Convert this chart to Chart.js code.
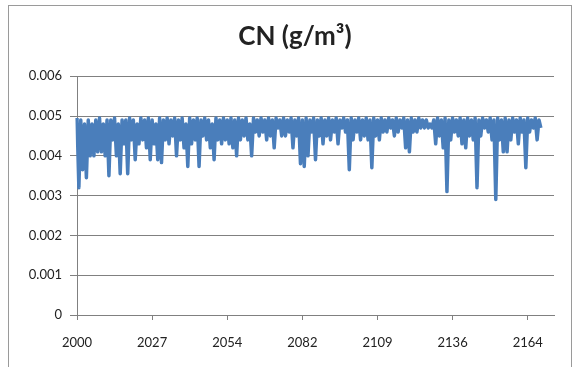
<!DOCTYPE html>
<html>
<head>
<meta charset="utf-8">
<script src="https://cdn.jsdelivr.net/npm/chart.js@4/dist/chart.umd.min.js"></script>
<style>
  html, body { margin: 0; padding: 0; background: #fff; }
  #wrap { width: 579px; height: 367px; }
</style>
</head>
<body>
<div id="wrap"><canvas id="cn-chart" width="579" height="367"></canvas></div>
<script>
////////////////////////////// data ///////////////////////////////////////////////////////////
const tickYears = ['2000', '2027', '2054', '2082', '2109', '2136', '2164'];
const pointsPerTick = 40;
const axisSlots = 255;

// CN (g/m3) (high / low pairs)
const cnValues = [
  0.00495, 0.0032, 0.0049, 0.00365, 0.0048, 0.00345, 0.0049, 0.0040, 0.0048, 0.0040,
  0.0049, 0.0041, 0.00495, 0.0041, 0.0048, 0.0040, 0.0049, 0.0035, 0.0049, 0.0044,
  0.00495, 0.0040, 0.0048, 0.00355, 0.0049, 0.0043, 0.0049, 0.00355, 0.00495, 0.0044,
  0.0049, 0.0039, 0.0048, 0.0043, 0.00495, 0.0044, 0.0049, 0.0042, 0.00495, 0.0039,
  0.0049, 0.0043, 0.0048, 0.0039, 0.00495, 0.00383, 0.0049, 0.0044, 0.00495, 0.0043,
  0.0049, 0.0045, 0.00495, 0.0040, 0.0049, 0.0044, 0.00495, 0.0042, 0.0048, 0.00373,
  0.00495, 0.0043, 0.0049, 0.0044, 0.00495, 0.00373, 0.0049, 0.0045, 0.00495, 0.0044,
  0.0049, 0.0042, 0.0048, 0.0039, 0.00495, 0.0044, 0.0049, 0.0043, 0.00495, 0.0044,
  0.0049, 0.0043, 0.00495, 0.0042, 0.0049, 0.0040, 0.00495, 0.0044, 0.0049, 0.0045,
  0.00495, 0.0044, 0.0048, 0.0040, 0.00495, 0.0046, 0.0049, 0.0045, 0.00495, 0.0046,
  0.0049, 0.0044, 0.00495, 0.0045, 0.0049, 0.0042, 0.00495, 0.0047, 0.0049, 0.0045,
  0.00495, 0.0045, 0.0049, 0.0046, 0.00495, 0.0042, 0.0049, 0.0045, 0.00495, 0.0038,
  0.0049, 0.00373, 0.00495, 0.0040, 0.0049, 0.0046, 0.00495, 0.0039, 0.0049, 0.0045,
  0.00495, 0.0043, 0.0049, 0.0045, 0.00495, 0.0044, 0.0049, 0.0046, 0.00495, 0.0043,
  0.0049, 0.0047, 0.00495, 0.0046, 0.0049, 0.00365, 0.00495, 0.0044, 0.0049, 0.0046,
  0.00495, 0.0044, 0.0049, 0.0045, 0.00495, 0.0044, 0.0049, 0.0037, 0.00495, 0.0045,
  0.0049, 0.0044, 0.00495, 0.0046, 0.0049, 0.0046, 0.00495, 0.0047, 0.0049, 0.0045,
  0.00495, 0.0046, 0.0049, 0.0047, 0.00495, 0.0042, 0.0049, 0.0041, 0.00495, 0.0046,
  0.0049, 0.0046, 0.00495, 0.0047, 0.0049, 0.0047, 0.0049, 0.0047, 0.0048, 0.0047,
  0.0049, 0.0043, 0.00495, 0.0045, 0.0049, 0.0042, 0.00495, 0.0031, 0.0049, 0.0044,
  0.00495, 0.0046, 0.0049, 0.0045, 0.00495, 0.0043, 0.0049, 0.0042, 0.00495, 0.0045,
  0.0049, 0.0044, 0.00495, 0.0032, 0.0049, 0.0045, 0.00495, 0.0047, 0.0049, 0.0046,
  0.00495, 0.0044, 0.0049, 0.0029, 0.00495, 0.0044, 0.0049, 0.0041, 0.00495, 0.0041,
  0.0049, 0.0044, 0.00495, 0.0046, 0.0049, 0.0043, 0.00495, 0.0046, 0.0049, 0.0037,
  0.00495, 0.0046, 0.0049, 0.0047, 0.00495, 0.0044, 0.0049, 0.0047
];

// category slots, year label every pointsPerTick slots
const slotLabels = [];
for (let i = 0; i < axisSlots; i++) slotLabels.push('');
tickYears.forEach((y, k) => { slotLabels[k * pointsPerTick] = y; });

////////////////////////////// chart ///////////////////////////////////////////////////////////
const frame = {
  id: 'frame',
  beforeDraw(chart) {
    const c = chart.ctx;
    c.save();
    c.fillStyle = '#fff';
    c.fillRect(0, 0, chart.width, chart.height);
    c.strokeStyle = '#9a9a9a';
    c.lineWidth = 1;
    c.strokeRect(8.5, 5.5, 563, 380);
    c.restore();
  },
  // excel centres the title a bit right of the canvas centre
  afterLayout(chart) {
    if (chart.titleBlock) {
      chart.titleBlock.left += 7;
      chart.titleBlock.right += 7;
    }
  }
};

const tickFont = { family: 'Lato, "Open Sans", sans-serif', size: 13 };

new Chart(document.getElementById('cn-chart'), {
  type: 'line',
  data: {
    labels: slotLabels,
    datasets: [{
      data: cnValues,
      borderColor: '#4a7ebb',
      borderWidth: 3.5,
      borderJoinStyle: 'round',
      pointRadius: 0,
      tension: 0,
      fill: false
    }]
  },
  options: {
    responsive: false,
    animation: false,
    events: [],
    layout: { padding: { left: 22, right: 25, top: 0, bottom: 0 } },
    plugins: {
      legend: { display: false },
      tooltip: { enabled: false },
      title: {
        display: true,
        text: 'CN (g/m³)',
        color: '#222',
        font: { family: 'Lato, "Open Sans", sans-serif', size: 26, weight: 'bold' },
        padding: { top: 21, bottom: 24 }
      }
    },
    scales: {
      x: {
        type: 'category',
        offset: false,
        afterFit(scale) { scale.height = 52; },
        grid: { drawOnChartArea: false, color: '#808080', tickLength: 5 },
        border: { color: '#808080' },
        ticks: {
          autoSkip: false,
          maxRotation: 0,
          padding: 15,
          color: '#222',
          font: tickFont,
          callback(value) {
            const lab = this.getLabelForValue(value);
            return lab === '' ? null : lab;
          }
        }
      },
      y: {
        min: 0,
        max: 0.006,
        afterFit(scale) { scale.width = 55; },
        grid: { color: '#808080', tickLength: 7 },
        border: { color: '#808080' },
        ticks: {
          stepSize: 0.001,
          padding: 8,
          color: '#222',
          font: tickFont,
          callback(v) { return v === 0 ? '0' : v.toFixed(3); }
        }
      }
    }
  },
  plugins: [frame]
});
</script>
</body>
</html>
